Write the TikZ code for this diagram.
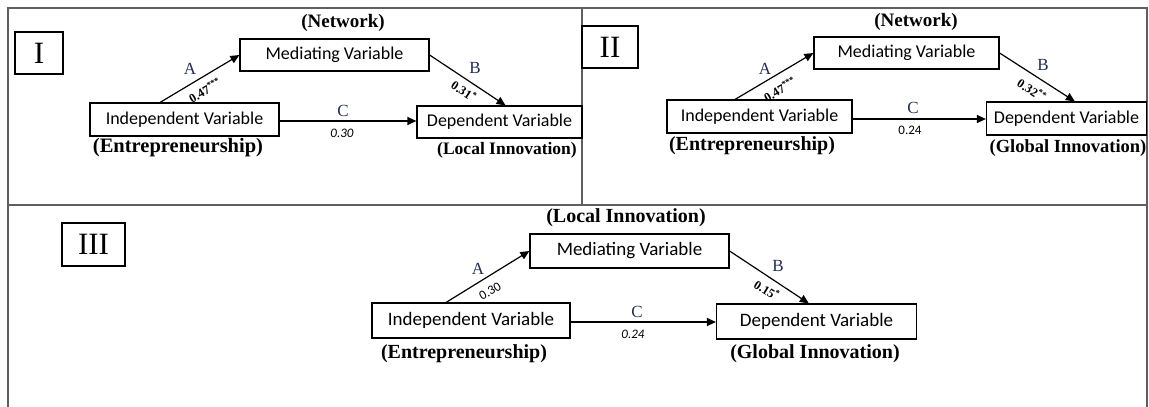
\documentclass[tikz,border=0pt]{standalone}
\usepackage{fontspec}
\setmainfont{Liberation Serif}
\newfontfamily\boxfont{Carlito}
\usetikzlibrary{arrows.meta}
\definecolor{framegray}{RGB}{95,95,95}
\definecolor{pathblue}{RGB}{35,45,85}
\begin{document}
\begin{tikzpicture}[x=1pt,y=-1pt,
  var/.style={draw, line width=1.2pt, inner sep=0pt, font=\boxfont\fontsize{#1}{20}\selectfont},
  var/.default=18,
  tag/.style={font=\bfseries\fontsize{#1}{22}\selectfont},
  tag/.default=18,
  num/.style={draw, line width=1.2pt, inner sep=0pt, font=\fontsize{31}{32}\selectfont},
  plab/.style={inner sep=0pt, text=pathblue, font=\fontsize{17}{18}\selectfont},
  coef/.style={inner sep=0pt, font=\bfseries\fontsize{12.5}{13}\selectfont},
  coefsf/.style={inner sep=0pt, font=\boxfont\fontsize{13}{14}\selectfont},
  coefit/.style={inner sep=0pt, font=\boxfont\itshape\fontsize{13}{14}\selectfont},
  arr/.style={-{Triangle[length=9pt,width=8pt]}, line width=1.2pt},
  frame/.style={draw=framegray, line width=1.4pt}]
\useasboundingbox (0,0) rectangle (1149,407);
% frame
\draw[frame] (8,407) -- (8,8) -- (1147,8) -- (1147,407);
\draw[frame] (8,205) -- (1147,205);
\draw[frame] (582,8) -- (582,205);
% panel I
\node[num, minimum width=48pt, minimum height=42pt] (num1) at (39,53){I};
\node[tag=19] (net1) at (343,23){(Network)};
\node[var, minimum width=189pt, minimum height=32pt] (med1) at (334.5,55){Mediating Variable};
\node[var, minimum width=189pt, minimum height=33pt] (ind1) at (184.5,119.5){Independent Variable};
\node[var, minimum width=165pt, minimum height=32pt] (dep1) at (499.5,122){Dependent Variable};
\node[tag=20.5] (ent1) at (178,148){(Entrepreneurship)};
\node[tag=17.5] (loc1) at (507,150){(Local Innovation)};
\draw[arr](ind1.145) -- (med1.west);
\draw[arr](med1.east) -- (dep1.70);
\draw[arr](ind1.east |- 0,121) -- (dep1.west |- 0,121);
\node[plab] (a1) at (190,69){A};
\node[coef, rotate=30] (ka1) at (205,90){0.47\textsuperscript{***}};
\node[plab] (b1) at (475,68){B};
\node[coef, rotate=-33] (kb1) at (464,91){0.31\textsuperscript{*}};
\node[plab] (c1) at (343,111){C};
\node[coefit] (kc1) at (342,133){0.30};
% panel II
\node[num, minimum width=56pt, minimum height=42pt] (num2) at (610,47){II};
\node[tag=19] (net2) at (916,22){(Network)};
\node[var, minimum width=185pt, minimum height=32pt] (med2) at (906.5,53){Mediating Variable};
\node[var, minimum width=185pt, minimum height=33pt] (ind2) at (759.5,116.5){Independent Variable};
\node[var, minimum width=160pt, minimum height=33pt] (dep2) at (1066.5,118.5){Dependent Variable};
\node[tag=20] (ent2) at (752,146){(Entrepreneurship)};
\node[tag=18.5] (glo2) at (1068,148){(Global Innovation)};
\draw[arr](ind2.145) -- (med2.west);
\draw[arr](med2.east) -- (dep2.64);
\draw[arr](ind2.east |- 0,119) -- (dep2.west |- 0,119);
\node[plab] (a2) at (765,69){A};
\node[coef, rotate=30] (ka2) at (780,89){0.47\textsuperscript{***}};
\node[plab] (b2) at (1043,65){B};
\node[coef, rotate=-33] (kb2) at (1032,90){0.32\textsuperscript{**}};
\node[plab] (c2) at (913,108){C};
\node[coefsf] (kc2) at (910,130){0.24};
% panel III
\node[num, minimum width=63pt, minimum height=43pt] (num3) at (93.5,244.5){III};
\node[tag=20] (loc3) at (626,218){(Local Innovation)};
\node[var=19, minimum width=199pt, minimum height=34pt] (med3) at (629.5,251){Mediating Variable};
\node[var=19, minimum width=198pt, minimum height=35pt] (ind3) at (471,320.5){Independent Variable};
\node[var=19, minimum width=200pt, minimum height=35pt] (dep3) at (816.5,321.5){Dependent Variable};
\node[tag=20] (ent3) at (464,354){(Entrepreneurship)};
\node[tag=20] (glo3) at (815,354){(Global Innovation)};
\draw[arr](ind3.144) -- (med3.west);
\draw[arr](med3.east) -- (dep3.113);
\draw[arr](ind3.east |- 0,322) -- (dep3.west |- 0,322);
\node[plab] (a3) at (478,269){A};
\node[coefsf, rotate=30] (ka3) at (490,291){0.30};
\node[plab] (b3) at (778,266){B};
\node[coef, rotate=-31] (kb3) at (767,290){0.15\textsuperscript{*}};
\node[plab] (c3) at (637,312){C};
\node[coefit] (kc3) at (633,334){0.24};
\end{tikzpicture}
\end{document}
